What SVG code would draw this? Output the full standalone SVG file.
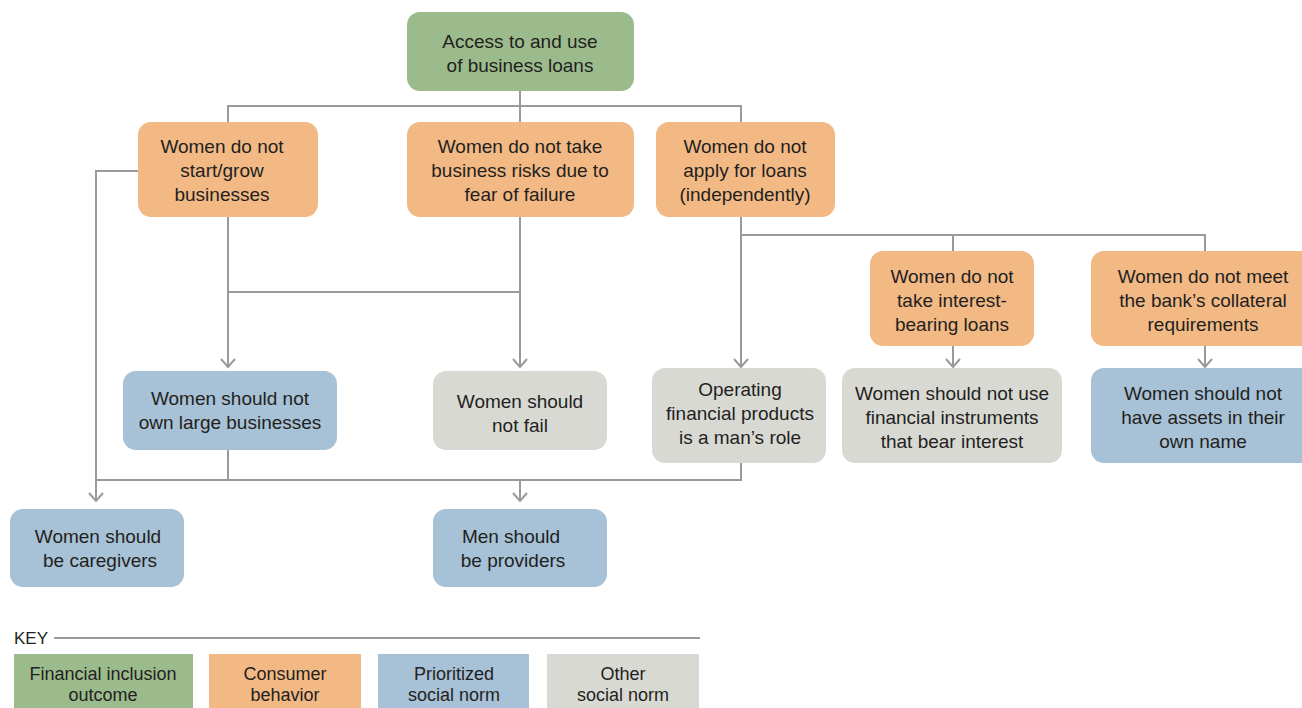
<svg xmlns="http://www.w3.org/2000/svg" width="1302" height="708" viewBox="0 0 1302 708">
<defs>
<style>
.t{font-family:"Liberation Sans",Arial,sans-serif;font-size:19px;fill:#231f20;text-anchor:middle}
.k{font-family:"Liberation Sans",Arial,sans-serif;font-size:18px;fill:#231f20;text-anchor:middle}
.g{fill:#9bbb8c}.o{fill:#f2b985}.b{fill:#a7c1d6}.s{fill:#d9d9d4}
.c{fill:none;stroke:#9a9a9a;stroke-width:2}
</style>
<marker id="ar" viewBox="0 0 12 16" refX="10" refY="8" markerWidth="12" markerHeight="16" markerUnits="userSpaceOnUse" orient="auto">
<path d="M2,1 L10,8 L2,15" fill="none" stroke="#9a9a9a" stroke-width="2"/>
</marker>
</defs>
<rect width="1302" height="708" fill="#fff"/>
<g id="connectors">
<path class="c" d="M520,91 V106 M228,122 V106 H741 V122 M520,106 V122"/>
<path class="c" d="M138,171 H96 V501" marker-end="url(#ar)"/>
<path class="c" d="M228,217 V367" marker-end="url(#ar)"/>
<path class="c" d="M520,217 V367" marker-end="url(#ar)"/>
<path class="c" d="M228,292 H520"/>
<path class="c" d="M741,217 V367" marker-end="url(#ar)"/>
<path class="c" d="M741,235 H1205 V251 M953,235 V251"/>
<path class="c" d="M953,346 V367" marker-end="url(#ar)"/>
<path class="c" d="M1205,346 V367" marker-end="url(#ar)"/>
<path class="c" d="M228,450 V480 M96,480 H741 V463"/>
<path class="c" d="M520,480 V501" marker-end="url(#ar)"/>
<path class="c" d="M54,638 H700"/>
</g>
<g id="n-access"><rect class="g" x="407" y="12" width="227" height="79" rx="13"/><text class="t" x="520" y="48">Access to and use</text><text class="t" x="520" y="72">of business loans</text></g>
<g id="n-start"><rect class="o" x="138" y="122" width="180" height="95" rx="13"/><text class="t" x="222" y="153">Women do not</text><text class="t" x="222" y="177">start/grow</text><text class="t" x="222" y="201">businesses</text></g>
<g id="n-risk"><rect class="o" x="407" y="122" width="227" height="95" rx="13"/><text class="t" x="520" y="153">Women do not take</text><text class="t" x="520" y="177">business risks due to</text><text class="t" x="520" y="201">fear of failure</text></g>
<g id="n-apply"><rect class="o" x="656" y="122" width="179" height="95" rx="13"/><text class="t" x="745" y="153">Women do not</text><text class="t" x="745" y="177">apply for loans</text><text class="t" x="745" y="201">(independently)</text></g>
<g id="n-interest"><rect class="o" x="870" y="251" width="164" height="95" rx="13"/><text class="t" x="952" y="283">Women do not</text><text class="t" x="952" y="307">take interest-</text><text class="t" x="952" y="331">bearing loans</text></g>
<g id="n-collateral"><rect class="o" x="1091" y="251" width="225" height="95" rx="13"/><text class="t" x="1203" y="283">Women do not meet</text><text class="t" x="1203" y="307">the bank’s collateral</text><text class="t" x="1203" y="331">requirements</text></g>
<g id="n-own"><rect class="b" x="123" y="371" width="214" height="79" rx="13"/><text class="t" x="230" y="405">Women should not</text><text class="t" x="230" y="429">own large businesses</text></g>
<g id="n-fail"><rect class="s" x="433" y="371" width="174" height="79" rx="13"/><text class="t" x="520" y="408">Women should</text><text class="t" x="520" y="432">not fail</text></g>
<g id="n-operating"><rect class="s" x="652" y="368" width="174" height="95" rx="13"/><text class="t" x="740" y="396">Operating</text><text class="t" x="740" y="420">financial products</text><text class="t" x="740" y="444">is a man’s role</text></g>
<g id="n-instruments"><rect class="s" x="842" y="368" width="220" height="95" rx="13"/><text class="t" x="952" y="400">Women should not use</text><text class="t" x="952" y="424">financial instruments</text><text class="t" x="952" y="448">that bear interest</text></g>
<g id="n-assets"><rect class="b" x="1091" y="368" width="225" height="95" rx="13"/><text class="t" x="1203" y="400">Women should not</text><text class="t" x="1203" y="424">have assets in their</text><text class="t" x="1203" y="448">own name</text></g>
<g id="n-caregivers"><rect class="b" x="10" y="509" width="174" height="78" rx="13"/><text class="t" x="98" y="543">Women should</text><text class="t" x="100" y="567">be caregivers</text></g>
<g id="n-providers"><rect class="b" x="433" y="509" width="174" height="78" rx="13"/><text class="t" x="511" y="543">Men should</text><text class="t" x="513" y="567">be providers</text></g>
<g id="key">
<text x="14" y="644" style="font-family:'Liberation Sans',Arial,sans-serif;font-size:17px;fill:#231f20">KEY</text>
<rect class="g" x="14" y="654" width="179" height="54"/><text class="k" x="103" y="680">Financial inclusion</text><text class="k" x="103" y="701">outcome</text>
<rect class="o" x="209" y="654" width="152" height="54"/><text class="k" x="285" y="680">Consumer</text><text class="k" x="285" y="701">behavior</text>
<rect class="b" x="378" y="654" width="151" height="54"/><text class="k" x="454" y="680">Prioritized</text><text class="k" x="454" y="701">social norm</text>
<rect class="s" x="547" y="654" width="152" height="54"/><text class="k" x="623" y="680">Other</text><text class="k" x="623" y="701">social norm</text>
</g>
</svg>
